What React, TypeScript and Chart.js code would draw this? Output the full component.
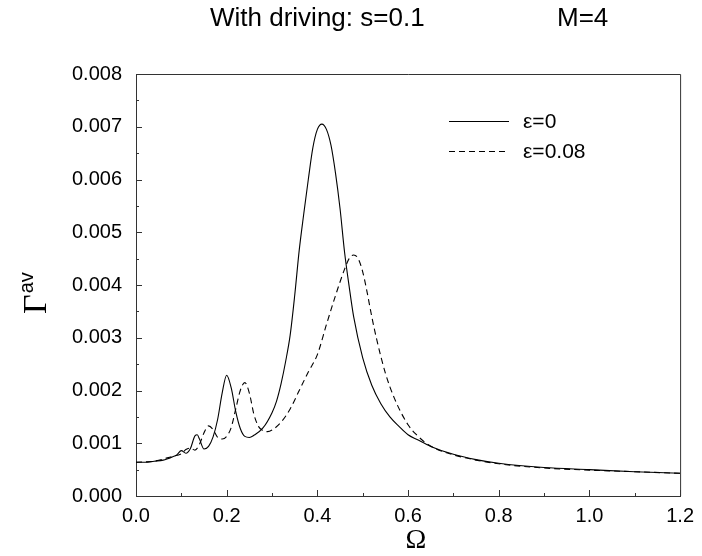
import React, { useEffect, useRef } from "react";
import { Chart, registerables } from "chart.js";

Chart.register(...registerables);

// ---- data ----
const omegaEps0 = [
  0.0, 0.02, 0.04, 0.06, 0.08, 0.09, 0.1, 0.11, 0.12, 0.13, 0.135, 0.14, 0.15, 0.16, 0.17, 0.18,
  0.19, 0.2, 0.21, 0.22, 0.23, 0.24, 0.25, 0.26, 0.28, 0.3, 0.31, 0.32, 0.33, 0.34, 0.35, 0.36,
  0.37, 0.38, 0.39, 0.4, 0.41, 0.42, 0.43, 0.44, 0.45, 0.46, 0.47, 0.48, 0.5, 0.52, 0.54, 0.56,
  0.58, 0.6, 0.62, 0.65, 0.7, 0.75, 0.8, 0.9, 1.0, 1.1, 1.2,
];
const gammaEps0 = [
  0.00064, 0.00064, 0.00066, 0.00068, 0.00074, 0.00078, 0.00086, 0.00081, 0.0009, 0.00114, 0.00116,
  0.00108, 0.00089, 0.00094, 0.00112, 0.00145, 0.00195, 0.00229, 0.00205, 0.0016, 0.00128, 0.00113,
  0.00111, 0.00115, 0.00129, 0.00158, 0.0018, 0.00213, 0.00255, 0.00305, 0.0038, 0.00466, 0.00535,
  0.006, 0.0066, 0.00695, 0.00705, 0.00695, 0.00665, 0.00612, 0.00545, 0.00462, 0.00398, 0.0034,
  0.00262, 0.0021, 0.00175, 0.0015, 0.00132, 0.00116, 0.00107, 0.00094, 0.00079, 0.00069, 0.00062,
  0.00054, 0.0005, 0.00046, 0.00043,
];
const omegaEps008 = [
  0.0, 0.04, 0.08, 0.1, 0.11, 0.12, 0.13, 0.14, 0.15, 0.16, 0.17, 0.18, 0.19, 0.2, 0.21, 0.22,
  0.23, 0.24, 0.25, 0.26, 0.27, 0.28, 0.29, 0.3, 0.32, 0.34, 0.36, 0.38, 0.4, 0.42, 0.44, 0.46,
  0.47, 0.48, 0.49, 0.5, 0.51, 0.52, 0.53, 0.55, 0.57, 0.6, 0.62, 0.64, 0.66, 0.7, 0.75, 0.8, 0.9,
  1.0, 1.1, 1.2,
];
const gammaEps008 = [
  0.00064, 0.00066, 0.00075, 0.0008, 0.00088, 0.00091, 0.00087, 0.00098, 0.0012, 0.00133, 0.00126,
  0.00111, 0.00108, 0.00113, 0.0013, 0.00165, 0.002, 0.00215, 0.00195, 0.00155, 0.00132, 0.00124,
  0.00122, 0.00125, 0.0014, 0.00165, 0.002, 0.00235, 0.00268, 0.00325, 0.0038, 0.0043, 0.0045,
  0.00457, 0.0045, 0.00425, 0.00385, 0.0034, 0.003, 0.00233, 0.00185, 0.00135, 0.00115, 0.001,
  0.0009, 0.00078, 0.00068, 0.00061, 0.00053, 0.00049, 0.00046, 0.00043,
];

const seriesLabels = ["\u03b5=0", "\u03b5=0.08"];
const xMajorTicks = [0, 0.2, 0.4, 0.6, 0.8, 1.0, 1.2];
const xMinorTicks = [0.1, 0.3, 0.5, 0.7, 0.9, 1.1];
const yMajorTicks = [0, 0.001, 0.002, 0.003, 0.004, 0.005, 0.006, 0.007, 0.008];
const yMinorTicks = [0.0005, 0.0015, 0.0025, 0.0035, 0.0045, 0.0055, 0.0065, 0.0075];
const titleLeft = "With driving: s=0.1";
const titleRight = "M=4";
const xTitle = "\u03a9";
const yTitle = "\u0393";
const yTitleSup = "av";

const SANS = "'Liberation Sans', Arial, Helvetica, sans-serif";
const SERIF = "'Liberation Serif', 'Times New Roman', serif";
const AXIS_COLOR = "#333333";

const decorPlugin = {
  id: "decor",
  afterDraw(chart: any) {
    const { ctx, chartArea, scales } = chart;
    const { left, right, top, bottom } = chartArea;
    const xs = scales.x;
    const ys = scales.y;
    ctx.save();
    // frame (top + right sides)
    ctx.strokeStyle = AXIS_COLOR;
    ctx.lineWidth = 1;
    ctx.beginPath();
    ctx.moveTo(left, top + 0.5);
    ctx.lineTo(right + 0.5, top + 0.5);
    ctx.lineTo(right + 0.5, bottom);
    ctx.stroke();
    // inward ticks
    const tick = (vals: number[], len: number, axis: "x" | "y") => {
      ctx.beginPath();
      for (const v of vals) {
        if (axis === "x") {
          const px = Math.round(xs.getPixelForValue(v)) + 0.5;
          ctx.moveTo(px, bottom);
          ctx.lineTo(px, bottom - len);
        } else {
          const py = Math.round(ys.getPixelForValue(v)) + 0.5;
          ctx.moveTo(left, py);
          ctx.lineTo(left + len, py);
        }
      }
      ctx.stroke();
    };
    tick(xMajorTicks, 6, "x");
    tick(xMinorTicks, 3, "x");
    tick(yMajorTicks, 6, "y");
    tick(yMinorTicks, 3, "y");

    // title
    ctx.fillStyle = "#000";
    ctx.font = `26px ${SANS}`;
    ctx.textBaseline = "middle";
    ctx.textAlign = "left";
    ctx.fillText(titleLeft, 210, 19);
    ctx.fillText(titleRight, 557, 19);

    // legend
    const ds = chart.data.datasets;
    const legendY = [121, 151];
    ctx.font = `21px ${SANS}`;
    ds.forEach((d: any, i: number) => {
      ctx.strokeStyle = d.borderColor;
      ctx.lineWidth = d.borderWidth;
      ctx.setLineDash(d.borderDash || []);
      ctx.beginPath();
      ctx.moveTo(449, legendY[i] + 0.5);
      ctx.lineTo(509, legendY[i] + 0.5);
      ctx.stroke();
      ctx.setLineDash([]);
      ctx.fillStyle = "#000";
      ctx.fillText(d.label, 523, legendY[i] + 1);
    });

    // x title
    ctx.font = `28px ${SERIF}`;
    ctx.textAlign = "center";
    ctx.textBaseline = "alphabetic";
    ctx.fillText(xTitle, 416, 548);

    // y title (rotated)
    ctx.translate(46, 314);
    ctx.rotate(-Math.PI / 2);
    ctx.textAlign = "left";
    ctx.font = `34px ${SERIF}`;
    ctx.fillText(yTitle, 0, 0);
    const w = ctx.measureText(yTitle).width;
    ctx.font = `20px ${SANS}`;
    ctx.fillText(yTitleSup, w + 1, -13);
    ctx.restore();
  },
};

export default function App() {
  const canvasRef = useRef<HTMLCanvasElement | null>(null);

  useEffect(() => {
    const canvas = canvasRef.current;
    if (!canvas) return;
    const chart = new Chart(canvas, {
      type: "line",
      data: {
        datasets: [
          {
            label: seriesLabels[0],
            data: omegaEps0.map((x, i) => ({ x, y: gammaEps0[i] })),
            borderColor: "#000000",
            borderWidth: 1.1,
            pointRadius: 0,
            cubicInterpolationMode: "monotone",
            fill: false,
          },
          {
            label: seriesLabels[1],
            data: omegaEps008.map((x, i) => ({ x, y: gammaEps008[i] })),
            borderColor: "#000000",
            borderWidth: 1.1,
            borderDash: [6, 4],
            pointRadius: 0,
            cubicInterpolationMode: "monotone",
            fill: false,
          },
        ],
      },
      options: {
        animation: false,
        responsive: false,
        devicePixelRatio: 1,
        layout: { padding: { top: 74, right: 19, left: 0, bottom: 0 } },
        plugins: { legend: { display: false }, title: { display: false }, tooltip: { enabled: false } },
        scales: {
          x: {
            type: "linear",
            min: 0,
            max: 1.2,
            afterBuildTicks: (s: any) => {
              s.ticks = xMajorTicks.map((v) => ({ value: v }));
            },
            afterFit: (s: any) => {
              s.height = 60;
            },
            ticks: {
              color: "#000",
              font: { family: SANS, size: 20 },
              padding: 8,
              maxRotation: 0,
              autoSkip: false,
              callback: (v: any) => Number(v).toFixed(1),
            },
            grid: { display: false, drawTicks: false },
            border: { display: true, color: AXIS_COLOR, width: 1 },
          },
          y: {
            type: "linear",
            min: 0,
            max: 0.008,
            afterBuildTicks: (s: any) => {
              s.ticks = yMajorTicks.map((v) => ({ value: v }));
            },
            afterFit: (s: any) => {
              s.width = 136;
            },
            ticks: {
              color: "#000",
              font: { family: SANS, size: 20 },
              padding: 14,
              autoSkip: false,
              callback: (v: any) => Number(v).toFixed(3),
            },
            grid: { display: false, drawTicks: false },
            border: { display: true, color: AXIS_COLOR, width: 1 },
          },
        },
      },
      plugins: [decorPlugin],
    } as any);
    return () => chart.destroy();
  }, []);

  return (
    <div style={{ position: "absolute", left: 0, top: 0, width: 702, height: 556, background: "#fff" }}>
      <canvas ref={canvasRef} width={702} height={556} style={{ width: 702, height: 556, display: "block" }} />
    </div>
  );
}
